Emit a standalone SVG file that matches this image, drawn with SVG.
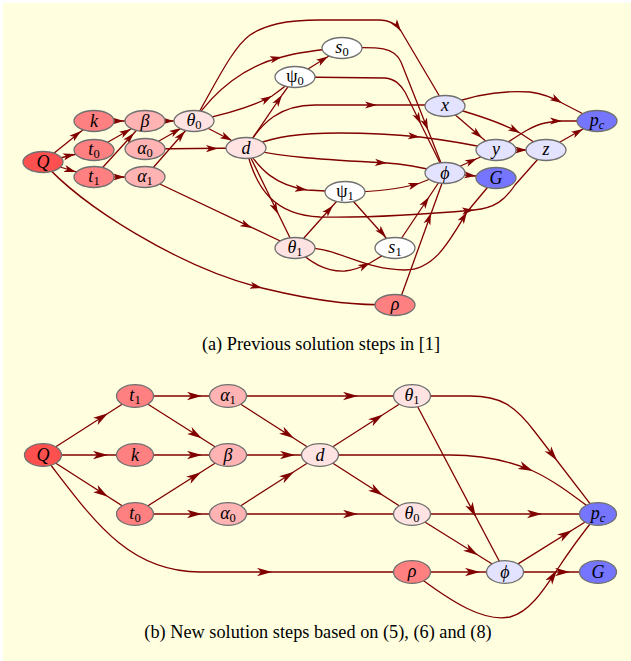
<svg xmlns="http://www.w3.org/2000/svg" width="631" height="661" viewBox="0 0 631 661">
<defs>
<marker id="a1" viewBox="0 0 12 8" refX="12" refY="4" markerWidth="12" markerHeight="8" orient="auto" markerUnits="userSpaceOnUse"><path d="M0,0.4 L12,4 L0,7.6 L3,4 z" fill="#800000"/></marker>
<marker id="a2" viewBox="0 0 15 9" refX="15" refY="4.5" markerWidth="15" markerHeight="9" orient="auto" markerUnits="userSpaceOnUse"><path d="M0,0.3 L15,4.5 L0,8.7 L4,4.5 z" fill="#800000"/></marker>
</defs>
<style>
.e{fill:none;stroke:#800000;stroke-width:1.3}
.a{fill:none;stroke:none;marker-end:url(#a1)}
.b{fill:none;stroke:none;marker-end:url(#a2)}
ellipse{stroke:#707070;stroke-width:1.3}
.c0{fill:#ff5050}.c1{fill:#ff8080}.c2{fill:#ffb3b3}.c3{fill:#ffe3e3}.c4{fill:#ffffff}.c5{fill:#e3e3ff}.c6{fill:#7575ff}
text{font-family:"Liberation Serif","Times New Roman",serif;font-size:18px;font-style:italic;text-anchor:middle;fill:#000}
.s{font-size:12.5px;font-style:normal}
.si{font-size:12.5px}
.u{font-style:normal}
.cap{font-size:18.3px;font-style:normal}
</style>
<rect x="0" y="0" width="631" height="661" fill="#ffffff"/>
<rect x="3" y="3" width="628" height="658" fill="#ffffe0"/>

<g id="edges-top">
<path class="e" d="M43,162 L94,121"/><path class="a" d="M43,162 L81,131"/>
<path class="e" d="M43,162 L94,150"/><path class="a" d="M43,162 L75,154"/>
<path class="e" d="M43,162 L94,177"/><path class="a" d="M43,162 L76,172"/>
<path class="e" d="M43,162 C80,205 180,268 262,288 C328,304 360,305 395,305"/><path class="a" d="M180,268 L262,288"/>
<path class="e" d="M94,121 L145,121"/><path class="a" d="M94,121 L124,121"/>
<path class="e" d="M94,150 L145,121"/><path class="a" d="M94,150 L131,129"/>
<path class="e" d="M94,177 L145,121"/><path class="a" d="M94,177 L134,133"/>
<path class="e" d="M94,177 L145,177"/><path class="a" d="M94,177 L125,177"/>
<path class="e" d="M145,121 L194,121"/><path class="a" d="M145,121 L174,121"/>
<path class="e" d="M145,149 L194,121"/><path class="a" d="M145,149 L181,128"/>
<path class="e" d="M145,177 L194,121"/><path class="a" d="M145,177 L185,131"/>
<path class="e" d="M145,149 L246,148"/><path class="a" d="M145,149 L218,148.5"/>
<path class="e" d="M145,177 L295,248"/><path class="a" d="M145,177 L252,228"/>
<path class="e" d="M194,121 L246,148"/><path class="a" d="M194,121 L232,140.5"/>
<path class="e" d="M194,121 Q247,110 272,96 Q284,88 295,77"/><path class="a" d="M247,110 L272,96"/>
<path class="e" d="M194,121 C215,90 245,66 282,57 C300,52 315,50 342,48"/><path class="a" d="M245,66 L282,57"/>
<path class="e" d="M194,121 C215,85 232,48 250,35 C265,25 285,20 320,20 L380,20 C390,20 396,24 401,31 L440,97"/><path class="a" d="M396,24 L401,31"/>
<path class="e" d="M295,77 L342,48"/><path class="a" d="M295,77 L328,56.5"/>
<path class="e" d="M246,148 L282,95 L295,77"/><path class="a" d="M246,148 L282,95"/>
<path class="e" d="M246,148 C262,122 280,105 315,105 L445,105"/><path class="a" d="M315,105 L377,105"/>
<path class="e" d="M246,148 C275,136 300,133 340,133 C380,133 400,135 420,137 C445,140 465,143 496,150"/><path class="a" d="M400,135 L420,137"/>
<path class="e" d="M246,148 C275,157 330,160 387,163 C405,164 420,167 445,173"/><path class="a" d="M330,160 L387,163"/>
<path class="e" d="M246,148 C260,170 275,185 307,190 L345,192"/><path class="a" d="M275,185 L307,190"/>
<path class="e" d="M246,148 L295,248"/><path class="a" d="M246,148 L278,214"/>
<path class="e" d="M246,148 C256,190 275,215 320,217 C380,218 430,214 474,210 C495,208 505,200 515,185 L546,150"/><path class="a" d="M430,214 L474,210"/>
<path class="e" d="M295,248 L345,192"/><path class="a" d="M295,248 L333,205.5"/>
<path class="e" d="M295,248 C310,262 325,272 345,271 C355,270 362,267 370,263 L395,248"/><path class="a" d="M362,267 L370,263"/>
<path class="e" d="M295,248 C335,244 360,270 405,270 C435,270 450,240 467,212 L492,182"/><path class="a" d="M450,240 L467,212"/>
<path class="e" d="M345,192 C375,192 400,189 420,183 L445,173"/><path class="a" d="M400,189 L420,183"/>
<path class="e" d="M345,192 L395,248"/><path class="a" d="M345,192 L386,237"/>
<path class="e" d="M395,248 L445,173"/><path class="a" d="M395,248 L429,197"/>
<path class="e" d="M398,305 L445,175"/><path class="a" d="M398,305 L431,213"/>
<path class="e" d="M445,173 L496,150"/><path class="a" d="M445,173 L477,158.6"/>
<path class="e" d="M445,173 L496,178"/><path class="a" d="M445,173 L476,176"/>
<path class="e" d="M445,106 L496,150"/><path class="a" d="M445,106 L482,138"/>
<path class="e" d="M445,106 C475,114 500,122 520,133 L546,150"/><path class="a" d="M500,122 L520,133"/>
<path class="e" d="M445,106 C470,96 500,90 530,92 C545,94 555,99 562,103 L597,121"/><path class="a" d="M555,99 L562,103"/>
<path class="e" d="M496,150 L546,150"/><path class="a" d="M496,150 L527,150"/>
<path class="e" d="M496,150 C515,138 530,126 545,123 C552,121.5 556,121 562,121 L597,121"/><path class="a" d="M556,121 L562,121"/>
<path class="e" d="M546,150 L597,121"/><path class="a" d="M546,150 L583,129"/>
<path class="e" d="M342,48 C378,47 394,46 401,62 L445,173"/><path class="a" d="M401,62 L428,130"/>
<path class="e" d="M295,77 L385,78 C395,79 400,84 405,92 L445,173"/><path class="a" d="M405,92 L421,124"/>
</g>

<g id="nodes-top">
<g id="tQ"><ellipse class="c0" cx="43" cy="162" rx="20" ry="10.5"/><text x="43" y="168">Q</text></g>
<g id="tk"><ellipse class="c1" cx="94" cy="121" rx="20" ry="10.5"/><text x="94" y="127">k</text></g>
<g id="tt0"><ellipse class="c1" cx="94" cy="150" rx="20" ry="10.5"/><text x="94" y="155">t<tspan class="s" dy="3">0</tspan></text></g>
<g id="tt1"><ellipse class="c1" cx="94" cy="177" rx="20" ry="10.5"/><text x="94" y="182">t<tspan class="s" dy="3">1</tspan></text></g>
<g id="tbeta"><ellipse class="c2" cx="145" cy="121" rx="20" ry="10.5"/><text x="145" y="127">β</text></g>
<g id="talpha0"><ellipse class="c2" cx="145" cy="149" rx="20" ry="10.5"/><text x="145" y="154">α<tspan class="s" dy="3">0</tspan></text></g>
<g id="talpha1"><ellipse class="c2" cx="145" cy="177" rx="20" ry="10.5"/><text x="145" y="182">α<tspan class="s" dy="3">1</tspan></text></g>
<g id="ttheta0"><ellipse class="c3" cx="194" cy="121" rx="20" ry="10.5"/><text x="194" y="126">θ<tspan class="s" dy="3">0</tspan></text></g>
<g id="td"><ellipse class="c3" cx="246" cy="148" rx="20" ry="10.5"/><text x="246" y="154">d</text></g>
<g id="tpsi0"><ellipse class="c4" cx="295" cy="77" rx="20" ry="10.5"/><text x="295" y="82" class="u">ψ<tspan class="s" dy="3">0</tspan></text></g>
<g id="ts0"><ellipse class="c4" cx="342" cy="48" rx="20" ry="10.5"/><text x="342" y="53">s<tspan class="s" dy="3">0</tspan></text></g>
<g id="tpsi1"><ellipse class="c4" cx="345" cy="192" rx="20" ry="10.5"/><text x="345" y="197" class="u">ψ<tspan class="s" dy="3">1</tspan></text></g>
<g id="ttheta1"><ellipse class="c3" cx="295" cy="248" rx="20" ry="10.5"/><text x="295" y="253">θ<tspan class="s" dy="3">1</tspan></text></g>
<g id="ts1"><ellipse class="c4" cx="395" cy="248" rx="20" ry="10.5"/><text x="395" y="253">s<tspan class="s" dy="3">1</tspan></text></g>
<g id="trho"><ellipse class="c1" cx="395" cy="305" rx="20" ry="10.5"/><text x="395" y="310">ρ</text></g>
<g id="tphi"><ellipse class="c5" cx="445" cy="173" rx="20" ry="10.5"/><text x="445" y="179">ϕ</text></g>
<g id="tx"><ellipse class="c5" cx="445" cy="106" rx="20" ry="10.5"/><text x="445" y="111">x</text></g>
<g id="ty"><ellipse class="c5" cx="496" cy="150" rx="20" ry="10.5"/><text x="496" y="155">y</text></g>
<g id="tz"><ellipse class="c5" cx="546" cy="150" rx="20" ry="10.5"/><text x="546" y="155">z</text></g>
<g id="tG"><ellipse class="c6" cx="496" cy="178" rx="20" ry="10.5"/><text x="496" y="184">G</text></g>
<g id="tpc"><ellipse class="c6" cx="597" cy="121" rx="20" ry="10.5"/><text x="597" y="126">p<tspan class="si" dy="3">c</tspan></text></g>
</g>

<text class="cap" x="321" y="350">(a) Previous solution steps in [1]</text>

<g id="edges-bottom">
<path class="e" d="M43,455 L135,396"/><path class="b" d="M43,455 L108,413.3"/>
<path class="e" d="M43,455 L135,455"/><path class="b" d="M43,455 L108,455"/>
<path class="e" d="M43,455 L135,514"/><path class="b" d="M43,455 L108,496.7"/>
<path class="e" d="M43,455 C90,515 125,572 200,572 L412,572"/><path class="b" d="M200,572 L272,572"/>
<path class="e" d="M135,396 L228,396"/><path class="b" d="M135,396 L202,396"/>
<path class="e" d="M135,396 L228,455"/><path class="b" d="M135,396 L202,438.5"/>
<path class="e" d="M135,455 L228,455"/><path class="b" d="M135,455 L202,455"/>
<path class="e" d="M135,514 L228,455"/><path class="b" d="M135,514 L201,472.2"/>
<path class="e" d="M135,514 L228,514"/><path class="b" d="M135,514 L202,514"/>
<path class="e" d="M228,396 L320,455"/><path class="b" d="M228,396 L294,438.3"/>
<path class="e" d="M228,455 L320,455"/><path class="b" d="M228,455 L295,455"/>
<path class="e" d="M228,514 L320,455"/><path class="b" d="M228,514 L294,471.7"/>
<path class="e" d="M228,396 L412,396"/><path class="b" d="M228,396 L358,396"/>
<path class="e" d="M228,514 L412,514"/><path class="b" d="M228,514 L358,514"/>
<path class="e" d="M320,455 L412,396"/><path class="b" d="M320,455 L383,414.6"/>
<path class="e" d="M320,455 L412,514"/><path class="b" d="M320,455 L383,495.4"/>
<path class="e" d="M320,455 L450,455 C485,455 510,461 533,471 C555,481 575,497 598,514"/><path class="b" d="M510,461 L533,471"/>
<path class="e" d="M412,396 L470,396 C500,396 515,405 535,432 L598,514"/><path class="b" d="M535,432 L557,460.6"/>
<path class="e" d="M412,396 L505,572"/><path class="b" d="M412,396 L475.9,517"/>
<path class="e" d="M412,514 L598,514"/><path class="b" d="M412,514 L542,514"/>
<path class="e" d="M412,514 L505,572"/><path class="b" d="M412,514 L478,555.2"/>
<path class="e" d="M412,572 L505,572"/><path class="b" d="M412,572 L480,572"/>
<path class="e" d="M412,572 C455,605 485,622 510,617 C530,612 545,588 557,570 C570,550 585,530 598,514"/><path class="b" d="M545,588 L557,570"/>
<path class="e" d="M505,572 L598,514"/><path class="b" d="M505,572 L572,530.2"/>
<path class="e" d="M505,572 L598,572"/><path class="b" d="M505,572 L570,572"/>
</g>

<g id="nodes-bottom">
<g id="bQ"><ellipse class="c0" cx="43" cy="455" rx="18.5" ry="11.3"/><text x="43" y="461">Q</text></g>
<g id="bt1"><ellipse class="c1" cx="135" cy="396" rx="18.5" ry="11.3"/><text x="135" y="401">t<tspan class="s" dy="3">1</tspan></text></g>
<g id="bk"><ellipse class="c1" cx="135" cy="455" rx="18.5" ry="11.3"/><text x="135" y="461">k</text></g>
<g id="bt0"><ellipse class="c1" cx="135" cy="514" rx="18.5" ry="11.3"/><text x="135" y="519">t<tspan class="s" dy="3">0</tspan></text></g>
<g id="balpha1"><ellipse class="c2" cx="228" cy="396" rx="18.5" ry="11.3"/><text x="228" y="401">α<tspan class="s" dy="3">1</tspan></text></g>
<g id="bbeta"><ellipse class="c2" cx="228" cy="455" rx="18.5" ry="11.3"/><text x="228" y="461">β</text></g>
<g id="balpha0"><ellipse class="c2" cx="228" cy="514" rx="18.5" ry="11.3"/><text x="228" y="519">α<tspan class="s" dy="3">0</tspan></text></g>
<g id="bd"><ellipse class="c3" cx="320" cy="455" rx="18.5" ry="11.3"/><text x="320" y="461">d</text></g>
<g id="btheta1"><ellipse class="c3" cx="412" cy="396" rx="18.5" ry="11.3"/><text x="412" y="401">θ<tspan class="s" dy="3">1</tspan></text></g>
<g id="btheta0"><ellipse class="c3" cx="412" cy="514" rx="18.5" ry="11.3"/><text x="412" y="519">θ<tspan class="s" dy="3">0</tspan></text></g>
<g id="brho"><ellipse class="c1" cx="412" cy="572" rx="18.5" ry="11.3"/><text x="412" y="577">ρ</text></g>
<g id="bphi"><ellipse class="c5" cx="505" cy="572" rx="18.5" ry="11.3"/><text x="505" y="578">ϕ</text></g>
<g id="bpc"><ellipse class="c6" cx="598" cy="514" rx="18.5" ry="11.3"/><text x="598" y="519">p<tspan class="si" dy="3">c</tspan></text></g>
<g id="bG"><ellipse class="c6" cx="598" cy="572" rx="18.5" ry="11.3"/><text x="598" y="578">G</text></g>
</g>

<text class="cap" x="318" y="638">(b) New solution steps based on (5), (6) and (8)</text>
</svg>
